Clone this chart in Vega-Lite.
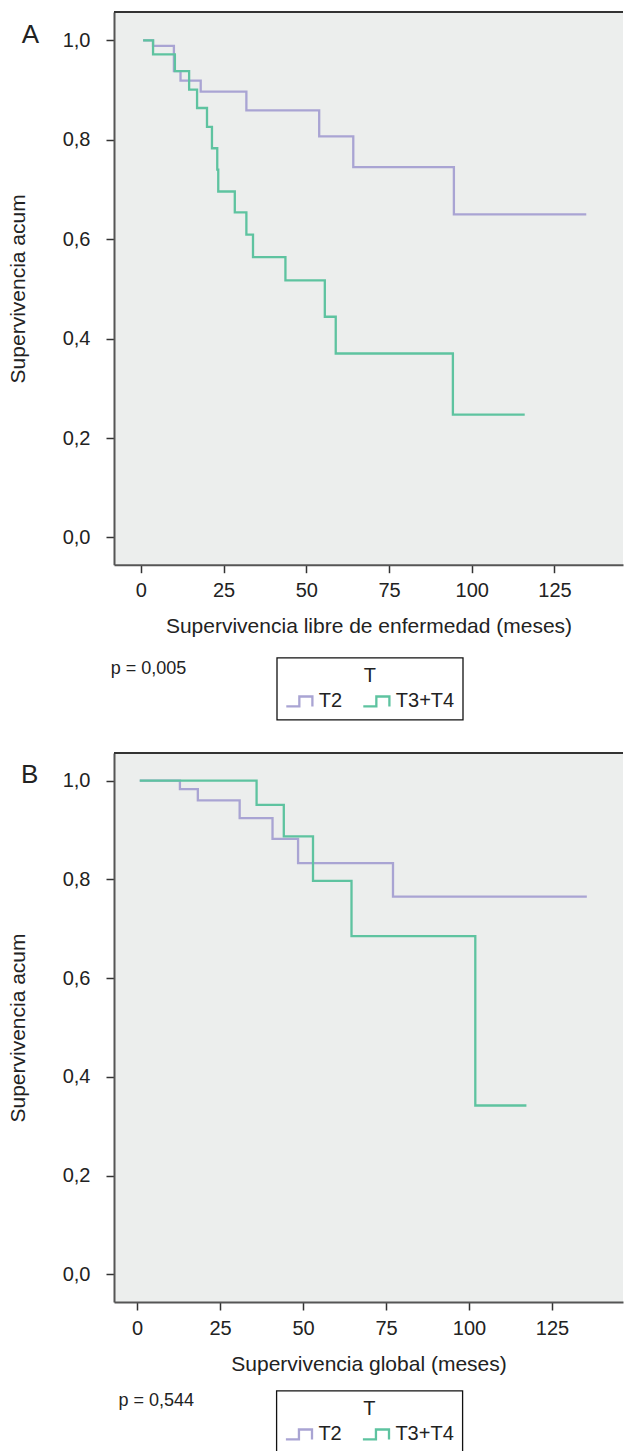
{
  "$schema": "https://vega.github.io/schema/vega-lite/v6.json",
  "padding": {"left": 7, "top": 11, "right": 0, "bottom": 0},
  "spacing": 31,
  "background": "white",
  "config": {
    "font": "Liberation Sans",
    "view": {"fill": "#eceeed", "stroke": null},
    "axis": {
      "grid": false,
      "domainColor": "#555555",
      "domainWidth": 2,
      "tickColor": "#333333",
      "tickWidth": 1.5,
      "tickSize": 8,
      "labelFontSize": 20,
      "labelColor": "#222222",
      "labelFlush": false,
      "titleFontSize": 21,
      "titleFontWeight": "normal",
      "titleColor": "#222222"
    },
    "axisX": {"labelPadding": 8, "titlePadding": 15},
    "axisY": {"labelPadding": 16, "titlePadding": 34},
    "legend": {
      "orient": "none",
      "direction": "horizontal",
      "strokeColor": "#111111",
      "strokeWidth": 1.3,
      "padding": 8,
      "titleAnchor": "middle",
      "titleFontSize": 20,
      "titleFontWeight": "normal",
      "titleColor": "#222222",
      "titlePadding": 5,
      "labelFontSize": 20,
      "labelColor": "#222222",
      "labelOffset": 13,
      "columnPadding": 15,
      "symbolType": "M-1,0.55H0.45V-0.55H1.9V0.55",
      "symbolSize": 324,
      "symbolStrokeWidth": 2.3,
      "symbolFillColor": "transparent"
    }
  },
  "datasets": {
    "curves": [
      {"panel": "A", "grupo": "T2", "t": 0.7, "s": 1.0},
      {"panel": "A", "grupo": "T2", "t": 3.7, "s": 0.989},
      {"panel": "A", "grupo": "T2", "t": 10.0, "s": 0.938},
      {"panel": "A", "grupo": "T2", "t": 12.0, "s": 0.919},
      {"panel": "A", "grupo": "T2", "t": 18.1, "s": 0.897},
      {"panel": "A", "grupo": "T2", "t": 31.9, "s": 0.859},
      {"panel": "A", "grupo": "T2", "t": 53.9, "s": 0.807},
      {"panel": "A", "grupo": "T2", "t": 64.2, "s": 0.745},
      {"panel": "A", "grupo": "T2", "t": 94.6, "s": 0.65},
      {"panel": "A", "grupo": "T2", "t": 134.6, "s": 0.65},
      {"panel": "A", "grupo": "T3+T4", "t": 0.7, "s": 1.0},
      {"panel": "A", "grupo": "T3+T4", "t": 3.7, "s": 0.972},
      {"panel": "A", "grupo": "T3+T4", "t": 10.3, "s": 0.938},
      {"panel": "A", "grupo": "T3+T4", "t": 14.6, "s": 0.901},
      {"panel": "A", "grupo": "T3+T4", "t": 17.0, "s": 0.864},
      {"panel": "A", "grupo": "T3+T4", "t": 20.0, "s": 0.826},
      {"panel": "A", "grupo": "T3+T4", "t": 21.5, "s": 0.783},
      {"panel": "A", "grupo": "T3+T4", "t": 23.1, "s": 0.74},
      {"panel": "A", "grupo": "T3+T4", "t": 23.4, "s": 0.696},
      {"panel": "A", "grupo": "T3+T4", "t": 28.4, "s": 0.654},
      {"panel": "A", "grupo": "T3+T4", "t": 31.9, "s": 0.609},
      {"panel": "A", "grupo": "T3+T4", "t": 33.9, "s": 0.564},
      {"panel": "A", "grupo": "T3+T4", "t": 43.7, "s": 0.517},
      {"panel": "A", "grupo": "T3+T4", "t": 55.6, "s": 0.444},
      {"panel": "A", "grupo": "T3+T4", "t": 58.9, "s": 0.37},
      {"panel": "A", "grupo": "T3+T4", "t": 94.3, "s": 0.247},
      {"panel": "A", "grupo": "T3+T4", "t": 116.0, "s": 0.247},
      {"panel": "B", "grupo": "T2", "t": 0.8, "s": 1.0},
      {"panel": "B", "grupo": "T2", "t": 12.9, "s": 0.983},
      {"panel": "B", "grupo": "T2", "t": 18.3, "s": 0.96},
      {"panel": "B", "grupo": "T2", "t": 30.9, "s": 0.924},
      {"panel": "B", "grupo": "T2", "t": 40.8, "s": 0.882},
      {"panel": "B", "grupo": "T2", "t": 48.5, "s": 0.833},
      {"panel": "B", "grupo": "T2", "t": 77.1, "s": 0.765},
      {"panel": "B", "grupo": "T2", "t": 135.5, "s": 0.765},
      {"panel": "B", "grupo": "T3+T4", "t": 0.8, "s": 1.0},
      {"panel": "B", "grupo": "T3+T4", "t": 36.0, "s": 0.951},
      {"panel": "B", "grupo": "T3+T4", "t": 44.2, "s": 0.887},
      {"panel": "B", "grupo": "T3+T4", "t": 53.0, "s": 0.797},
      {"panel": "B", "grupo": "T3+T4", "t": 64.6, "s": 0.685},
      {"panel": "B", "grupo": "T3+T4", "t": 101.9, "s": 0.342},
      {"panel": "B", "grupo": "T3+T4", "t": 117.3, "s": 0.342}
    ],
    "notes": [
      {"panel": "A", "letter": "A", "pval": "p = 0,005"},
      {"panel": "B", "letter": "B", "pval": "p = 0,544"}
    ]
  },
  "resolve": {
    "scale": {"color": "independent", "x": "independent", "y": "independent"},
    "legend": {"color": "independent"}
  },
  "vconcat": [
    {
      "width": 509,
      "height": 552.7,
      "layer": [
        {
          "data": {"name": "notes"},
          "transform": [{"filter": "datum.panel == 'A'"}],
          "mark": {"type": "rule", "color": "#333333", "strokeWidth": 2},
          "encoding": {"y": {"datum": 1.0571, "type": "quantitative"}}
        },
        {
          "data": {"name": "curves"},
          "transform": [{"filter": "datum.panel == 'A'"}],
          "mark": {"type": "line", "interpolate": "step-after", "strokeWidth": 2.3, "strokeCap": "butt"},
          "encoding": {
            "x": {
              "field": "t", "type": "quantitative",
              "scale": {"domain": [-8.1, 145.7], "nice": false, "zero": false},
              "axis": {"values": [0, 25, 50, 75, 100, 125], "format": "d", "title": "Supervivencia libre de enfermedad (meses)"}
            },
            "y": {
              "field": "s", "type": "quantitative",
              "scale": {"domain": [-0.0549, 1.0571], "nice": false, "zero": false},
              "axis": {"values": [0, 0.2, 0.4, 0.6, 0.8, 1.0], "labelExpr": "replace(format(datum.value, '.1f'), '.', ',')", "title": "Supervivencia acum"}
            },
            "color": {
              "field": "grupo", "type": "nominal",
              "scale": {"domain": ["T2", "T3+T4"], "range": ["#a9a4d3", "#5ec3a0"]},
              "legend": {"title": "T", "legendX": 162.8, "legendY": 645.7}
            }
          }
        },
        {
          "data": {"name": "notes"},
          "transform": [{"filter": "datum.panel == 'A'"}],
          "mark": {"type": "text", "align": "left", "baseline": "alphabetic", "fontSize": 26, "color": "#222222"},
          "encoding": {
            "x": {"datum": -36.0, "type": "quantitative"},
            "y": {"datum": 0.995, "type": "quantitative"},
            "text": {"field": "letter"}
          }
        },
        {
          "data": {"name": "notes"},
          "transform": [{"filter": "datum.panel == 'A'"}],
          "mark": {"type": "text", "align": "left", "baseline": "middle", "fontSize": 18, "color": "#222222"},
          "encoding": {
            "x": {"datum": -9.1, "type": "quantitative"},
            "y": {"datum": -0.264, "type": "quantitative"},
            "text": {"field": "pval"}
          }
        }
      ]
    },
    {
      "width": 509,
      "height": 549,
      "layer": [
        {
          "data": {"name": "notes"},
          "transform": [{"filter": "datum.panel == 'B'"}],
          "mark": {"type": "rule", "color": "#333333", "strokeWidth": 2},
          "encoding": {"y": {"datum": 1.056, "type": "quantitative"}}
        },
        {
          "data": {"name": "curves"},
          "transform": [{"filter": "datum.panel == 'B'"}],
          "mark": {"type": "line", "interpolate": "step-after", "strokeWidth": 2.3, "strokeCap": "butt"},
          "encoding": {
            "x": {
              "field": "t", "type": "quantitative",
              "scale": {"domain": [-6.96, 146.4], "nice": false, "zero": false},
              "axis": {"values": [0, 25, 50, 75, 100, 125], "format": "d", "title": "Supervivencia global (meses)"}
            },
            "y": {
              "field": "s", "type": "quantitative",
              "scale": {"domain": [-0.056, 1.056], "nice": false, "zero": false},
              "axis": {"values": [0, 0.2, 0.4, 0.6, 0.8, 1.0], "labelExpr": "replace(format(datum.value, '.1f'), '.', ',')", "title": "Supervivencia acum"}
            },
            "color": {
              "field": "grupo", "type": "nominal",
              "scale": {"domain": ["T2", "T3+T4"], "range": ["#a9a4d3", "#5ec3a0"]},
              "legend": {"title": "T", "legendX": 162.4, "legendY": 637.7}
            }
          }
        },
        {
          "data": {"name": "notes"},
          "transform": [{"filter": "datum.panel == 'B'"}],
          "mark": {"type": "text", "align": "left", "baseline": "alphabetic", "fontSize": 26, "color": "#222222"},
          "encoding": {
            "x": {"datum": -35.0, "type": "quantitative"},
            "y": {"datum": 0.995, "type": "quantitative"},
            "text": {"field": "letter"}
          }
        },
        {
          "data": {"name": "notes"},
          "transform": [{"filter": "datum.panel == 'B'"}],
          "mark": {"type": "text", "align": "left", "baseline": "middle", "fontSize": 18, "color": "#222222"},
          "encoding": {
            "x": {"datum": -5.6, "type": "quantitative"},
            "y": {"datum": -0.2575, "type": "quantitative"},
            "text": {"field": "pval"}
          }
        }
      ]
    }
  ]
}
